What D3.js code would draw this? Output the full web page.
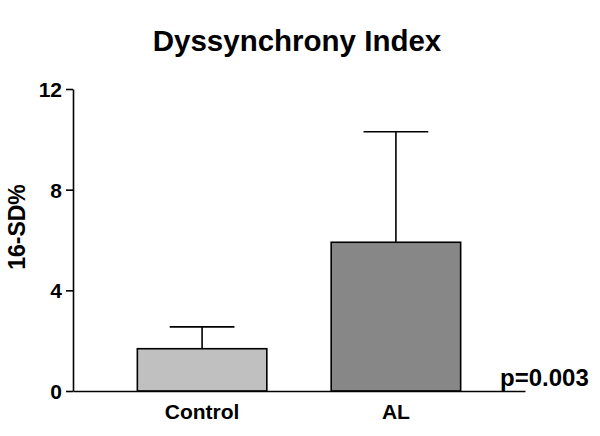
<!DOCTYPE html>
<html>
<head>
<meta charset="utf-8">
<script src="https://cdn.jsdelivr.net/npm/d3@7"></script>
<style>
  body { margin: 0; background: #fff; }
  text { font-family: "Liberation Sans", Arial, sans-serif; font-weight: bold; fill: #000; }
</style>
</head>
<body>
<div id="wrapper"></div>
<script>
// data
const groups = ["Control", "AL"];
const means = [1.68, 5.91];
const errors = [0.87, 4.39];
const barColors = ["#c0c0c0", "#878787"];
const yTicks = [0, 4, 8, 12];

const width = 600, height = 436;
const margin = { top: 89, right: 75, bottom: 45, left: 73 };

const svg = d3.select("#wrapper")
    .append("svg")
    .attr("width", width)
    .attr("height", height);

const x = d3.scaleBand()
    .domain(groups)
    .range([margin.left, width - margin.right])
    .paddingInner(0.332)
    .paddingOuter(0.332);

const y = d3.scaleLinear()
    .domain([0, 12])
    .range([height - margin.bottom, margin.top]);

const data = groups.map((g, i) => ({ g: g, mean: means[i], err: errors[i], color: barColors[i] }));

// bars
svg.append("g")
    .selectAll("rect")
    .data(data)
    .enter()
    .append("rect")
    .attr("x", d => x(d.g))
    .attr("y", d => y(d.mean))
    .attr("width", x.bandwidth())
    .attr("height", d => y(0) - y(d.mean))
    .style("fill", d => d.color)
    .style("stroke", "#000")
    .style("stroke-width", 1.6);

// error bars (upper only)
const capHalf = x.bandwidth() * 0.25;
const eb = svg.append("g")
    .selectAll("g")
    .data(data)
    .enter()
    .append("g")
    .style("stroke", "#000")
    .style("stroke-width", 1.6);

eb.append("line")
    .attr("x1", d => x(d.g) + x.bandwidth() / 2)
    .attr("x2", d => x(d.g) + x.bandwidth() / 2)
    .attr("y1", d => y(d.mean))
    .attr("y2", d => y(d.mean + d.err));

eb.append("line")
    .attr("x1", d => x(d.g) + x.bandwidth() / 2 - capHalf)
    .attr("x2", d => x(d.g) + x.bandwidth() / 2 + capHalf)
    .attr("y1", d => y(d.mean + d.err))
    .attr("y2", d => y(d.mean + d.err));

// y axis
const yAxis = svg.append("g")
    .attr("transform", `translate(${margin.left},0)`)
    .call(d3.axisLeft(y).tickValues(yTicks).tickSize(7).tickSizeOuter(0).tickPadding(4));
yAxis.select(".domain").style("stroke-width", 1.6);
yAxis.selectAll(".tick line").style("stroke-width", 1.6);
yAxis.selectAll(".tick text")
    .style("font-size", "21px")
    .style("font-family", "'Liberation Sans', Arial, sans-serif")
    .style("font-weight", "bold")
    .attr("dy", "0.36em");

// x axis
const xAxis = svg.append("g")
    .attr("transform", `translate(0,${y(0)})`)
    .call(d3.axisBottom(x).tickSize(0).tickSizeOuter(0).tickPadding(13));
xAxis.select(".domain").style("stroke-width", 1.6);
xAxis.selectAll(".tick text")
    .style("font-size", "21px")
    .style("font-family", "'Liberation Sans', Arial, sans-serif")
    .style("font-weight", "bold");

// title
svg.append("text")
    .attr("x", 297)
    .attr("y", 51)
    .style("text-anchor", "middle")
    .style("font-size", "29.5px")
    .text("Dyssynchrony Index");

// y label
svg.append("text")
    .attr("transform", `translate(25,${(y(0) + y(12)) / 2 - 13}) rotate(-90)`)
    .style("text-anchor", "middle")
    .style("font-size", "23px")
    .text("16-SD%");

// p value
svg.append("text")
    .attr("x", 500)
    .attr("y", 386)
    .style("font-size", "24px")
    .text("p=0.003");
</script>
</body>
</html>
